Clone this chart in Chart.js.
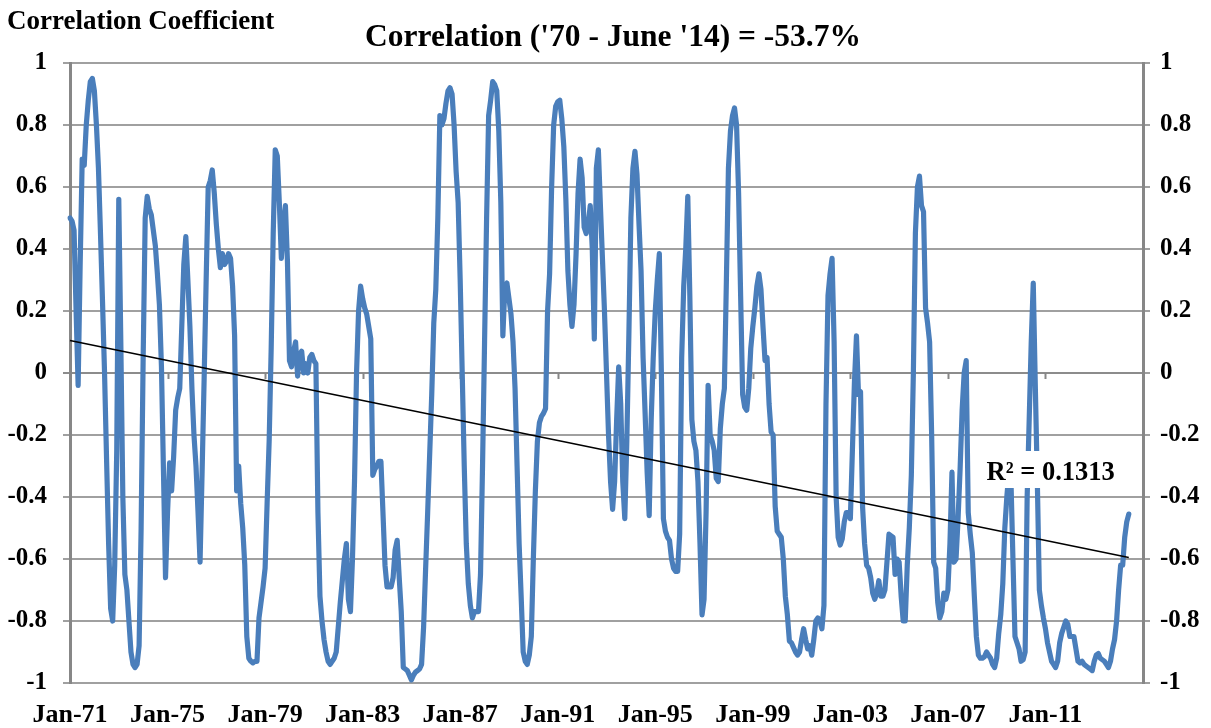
<!DOCTYPE html>
<html>
<head>
<meta charset="utf-8">
<script src="https://cdn.jsdelivr.net/npm/chart.js@4/dist/chart.umd.min.js"></script>
<style>
  html, body { margin: 0; padding: 0; background: #ffffff; }
  #wrap { width: 1211px; height: 728px; position: relative; }
</style>
</head>
<body>
<div id="wrap"><canvas id="c"></canvas></div>
<script>
// ---------- DATA ----------
const chartTitle = "Correlation ('70 - June '14) = -53.7%";
const yAxisCaption = "Correlation Coefficient";
const trendLabel = "R\u00B2 = 0.1313";

// axis categories: monthly, Jan-71 .. Jan-15
const monthNames = ['Jan','Feb','Mar','Apr','May','Jun','Jul','Aug','Sep','Oct','Nov','Dec'];
const categories = [];
for (let i = 0; i <= 528; i++) {
  const yr = (1971 + Math.floor(i / 12)) % 100;
  categories.push(monthNames[i % 12] + '-' + String(yr).padStart(2, '0'));
}

const xTickLabels = ['Jan-71','Jan-75','Jan-79','Jan-83','Jan-87','Jan-91','Jan-95','Jan-99','Jan-03','Jan-07','Jan-11'];
const yTickLabels = ['-1','-0.8','-0.6','-0.4','-0.2','0','0.2','0.4','0.6','0.8','1'];

// monthly correlation coefficient, Jan-71 .. Jun-14 (one row per year)
const correlation = [
  0.50, 0.49, 0.46, 0.20, -0.04, 0.35, 0.69, 0.67, 0.80, 0.88, 0.94, 0.95,
  0.91, 0.80, 0.66, 0.45, 0.23, 0.00, -0.28, -0.55, -0.76, -0.80, -0.62, -0.25,
  0.56, 0.10, -0.40, -0.65, -0.70, -0.80, -0.90, -0.94, -0.95, -0.94, -0.88, -0.50,
  0.05, 0.50, 0.57, 0.53, 0.51, 0.46, 0.41, 0.32, 0.22, 0.02, -0.32, -0.66,
  -0.45, -0.29, -0.38, -0.27, -0.12, -0.08, -0.05, 0.15, 0.35, 0.44, 0.30, 0.15,
  -0.05, -0.20, -0.30, -0.45, -0.61, -0.32, -0.02, 0.30, 0.60, 0.62, 0.655, 0.58,
  0.48, 0.40, 0.34, 0.385, 0.35, 0.36, 0.385, 0.37, 0.28, 0.12, -0.38, -0.30,
  -0.42, -0.50, -0.62, -0.85, -0.92, -0.93, -0.935, -0.93, -0.93, -0.79, -0.74, -0.69,
  -0.63, -0.42, -0.22, 0.08, 0.45, 0.72, 0.70, 0.55, 0.37, 0.48, 0.54, 0.36,
  0.04, 0.02, 0.07, 0.10, -0.01, 0.06, 0.07, 0.00, 0.03, 0.00, 0.05, 0.06,
  0.04, 0.03, -0.45, -0.72, -0.80, -0.86, -0.90, -0.93, -0.94, -0.93, -0.92, -0.90,
  -0.82, -0.74, -0.67, -0.60, -0.55, -0.73, -0.77, -0.60, -0.35, 0.00, 0.20, 0.28,
  0.24, 0.21, 0.19, 0.15, 0.11, -0.33, -0.31, -0.30, -0.285, -0.285, -0.45, -0.62,
  -0.69, -0.69, -0.69, -0.66, -0.57, -0.54, -0.66, -0.77, -0.95, -0.955, -0.96, -0.975,
  -0.99, -0.975, -0.965, -0.96, -0.955, -0.94, -0.82, -0.63, -0.45, -0.26, -0.07, 0.16,
  0.27, 0.50, 0.83, 0.80, 0.82, 0.87, 0.91, 0.92, 0.90, 0.80, 0.65, 0.55,
  0.30, 0.00, -0.30, -0.55, -0.68, -0.75, -0.79, -0.77, -0.77, -0.77, -0.65, -0.30,
  0.10, 0.50, 0.83, 0.88, 0.94, 0.93, 0.91, 0.78, 0.55, 0.12, 0.28, 0.29,
  0.24, 0.19, 0.10, -0.05, -0.30, -0.55, -0.72, -0.90, -0.93, -0.94, -0.91, -0.85,
  -0.60, -0.38, -0.22, -0.16, -0.14, -0.13, -0.115, 0.20, 0.32, 0.60, 0.80, 0.86,
  0.875, 0.88, 0.82, 0.73, 0.56, 0.33, 0.22, 0.15, 0.22, 0.38, 0.58, 0.69,
  0.63, 0.47, 0.45, 0.48, 0.54, 0.40, 0.11, 0.66, 0.72, 0.54, 0.37, 0.20,
  0.00, -0.20, -0.35, -0.44, -0.35, -0.15, 0.02, -0.10, -0.35, -0.47, -0.22, 0.12,
  0.50, 0.66, 0.715, 0.64, 0.48, 0.33, 0.05, -0.13, -0.32, -0.46, -0.15, 0.05,
  0.20, 0.30, 0.385, 0.00, -0.47, -0.51, -0.53, -0.54, -0.60, -0.63, -0.64, -0.64,
  -0.52, 0.05, 0.28, 0.40, 0.57, 0.25, -0.15, -0.22, -0.25, -0.35, -0.55, -0.78,
  -0.73, -0.45, -0.04, -0.20, -0.22, -0.25, -0.34, -0.35, -0.18, -0.10, -0.05, 0.30,
  0.66, 0.78, 0.83, 0.855, 0.80, 0.58, 0.25, -0.07, -0.11, -0.12, -0.05, 0.08,
  0.15, 0.21, 0.28, 0.32, 0.27, 0.15, 0.04, 0.05, -0.10, -0.19, -0.20, -0.43,
  -0.51, -0.52, -0.53, -0.60, -0.72, -0.78, -0.865, -0.87, -0.885, -0.90, -0.91, -0.90,
  -0.86, -0.825, -0.86, -0.89, -0.88, -0.91, -0.86, -0.80, -0.79, -0.80, -0.825, -0.75,
  -0.10, 0.25, 0.32, 0.37, 0.10, -0.40, -0.53, -0.555, -0.535, -0.48, -0.45, -0.45,
  -0.47, -0.25, -0.03, 0.12, -0.07, -0.06, -0.43, -0.55, -0.62, -0.63, -0.66, -0.71,
  -0.73, -0.71, -0.67, -0.72, -0.72, -0.70, -0.61, -0.52, -0.525, -0.53, -0.65, -0.60,
  -0.61, -0.72, -0.80, -0.80, -0.62, -0.50, -0.33, 0.00, 0.45, 0.60, 0.635, 0.54,
  0.52, 0.21, 0.16, 0.10, -0.20, -0.61, -0.63, -0.74, -0.79, -0.77, -0.71, -0.73,
  -0.70, -0.55, -0.32, -0.61, -0.60, -0.47, -0.31, -0.12, 0.00, 0.04, -0.45, -0.52,
  -0.58, -0.72, -0.85, -0.91, -0.92, -0.92, -0.915, -0.90, -0.91, -0.92, -0.94, -0.95,
  -0.92, -0.84, -0.78, -0.68, -0.50, -0.40, -0.32, -0.34, -0.60, -0.85, -0.87, -0.89,
  -0.93, -0.925, -0.90, -0.40, -0.15, 0.10, 0.29, -0.04, -0.35, -0.70, -0.75, -0.79,
  -0.825, -0.87, -0.90, -0.93, -0.94, -0.95, -0.93, -0.87, -0.84, -0.82, -0.80, -0.81,
  -0.85, -0.85, -0.85, -0.89, -0.93, -0.935, -0.93, -0.94, -0.945, -0.95, -0.955, -0.96,
  -0.93, -0.91, -0.905, -0.92, -0.925, -0.93, -0.94, -0.95, -0.93, -0.89, -0.86, -0.80,
  -0.70, -0.62, -0.62, -0.53, -0.48, -0.455
];

// linear trendline end points
const trendDates = ['Jan-71', 'Jun-14'];
const trendValues = [0.105, -0.595];

// ---------- STYLE ----------
const SERIF = "'Liberation Serif', 'Times New Roman', serif";
const GRID = '#A0A0A0';
const AXIS = '#878787';

const textPlugin = {
  id: 'texts',
  beforeDatasetsDraw(chart) {
    const ctx = chart.ctx, xs = chart.scales.x, ys = chart.scales.y;
    const y0 = ys.getPixelForValue(0);
    ctx.save();
    ctx.strokeStyle = AXIS;
    ctx.lineWidth = 2;
    xTickLabels.forEach(lbl => {
      const idx = categories.indexOf(lbl);
      if (idx <= 0) return;
      const px = Math.round(xs.getPixelForValue(idx)) + 0.5;
      ctx.beginPath();
      ctx.moveTo(px, y0);
      ctx.lineTo(px, y0 + 6);
      ctx.stroke();
    });
    ctx.restore();
  },
  afterDraw(chart) {
    const ctx = chart.ctx;
    ctx.save();
    ctx.fillStyle = '#000';
    ctx.textBaseline = 'alphabetic';
    ctx.font = 'bold 31.5px ' + SERIF;
    ctx.textAlign = 'center';
    ctx.fillText(chartTitle, 613, 45.5);
    ctx.font = 'bold 27px ' + SERIF;
    ctx.textAlign = 'left';
    ctx.fillText(yAxisCaption, 7, 28.5);
    // trendline label with white box
    ctx.fillStyle = '#fff';
    ctx.fillRect(983, 451, 134, 37);
    ctx.fillStyle = '#000';
    ctx.font = 'bold 26.5px ' + SERIF;
    ctx.fillText(trendLabel, 986.5, 479.5);
    ctx.restore();
  }
};

new Chart(document.getElementById('c'), {
  type: 'line',
  data: {
    labels: categories,
    datasets: [
      {
        label: 'Trend',
        data: trendDates.map((d, i) => ({ x: d, y: trendValues[i] })),
        borderColor: '#000000',
        borderWidth: 1.6,
        pointRadius: 0,
        fill: false,
        order: 0
      },
      {
        label: 'Correlation',
        data: correlation,
        borderColor: '#4A7EBB',
        borderWidth: 5.2,
        pointRadius: 0,
        tension: 0,
        borderJoinStyle: 'round',
        borderCapStyle: 'round',
        fill: false,
        order: 1
      }
    ]
  },
  options: {
    responsive: true,
    maintainAspectRatio: false,
    animation: false,
    devicePixelRatio: 1,
    layout: { padding: { top: 63, left: 0, right: 0, bottom: 0 } },
    plugins: { legend: { display: false }, tooltip: { enabled: false }, title: { display: false } },
    scales: {
      x: {
        type: 'category',
        offset: false,
        afterFit(s) { s.height = 45; },
        grid: { display: false, drawTicks: false },
        border: { display: false },
        ticks: {
          autoSkip: false,
          maxRotation: 0,
          minRotation: 0,
          padding: 17,
          color: '#000',
          font: { family: SERIF, size: 26, weight: 'bold' },
          callback(value, index) {
            const lbl = categories[index];
            return xTickLabels.includes(lbl) ? lbl : null;
          }
        }
      },
      y: {
        position: 'left',
        min: -1, max: 1,
        afterFit(s) { s.width = 70; },
        grid: {
          color: ctx => (ctx.tick && ctx.tick.value === 0) ? '#8C8C8C' : GRID,
          lineWidth: 2,
          tickLength: 7,
          drawTicks: true
        },
        border: { display: true, color: AXIS, width: 3 },
        ticks: {
          stepSize: 0.2,
          padding: 16,
          color: '#000',
          font: { family: SERIF, size: 25, weight: 'bold' },
          callback(value, index) { return yTickLabels[index]; }
        }
      },
      y2: {
        position: 'right',
        min: -1, max: 1,
        afterFit(s) { s.width = 68; },
        grid: { drawOnChartArea: false, color: GRID, lineWidth: 2, tickLength: 7, drawTicks: true },
        border: { display: true, color: AXIS, width: 3 },
        ticks: {
          stepSize: 0.2,
          padding: 10,
          color: '#000',
          font: { family: SERIF, size: 25, weight: 'bold' },
          callback(value, index) { return yTickLabels[index]; }
        }
      }
    }
  },
  plugins: [textPlugin]
});
</script>
</body>
</html>
